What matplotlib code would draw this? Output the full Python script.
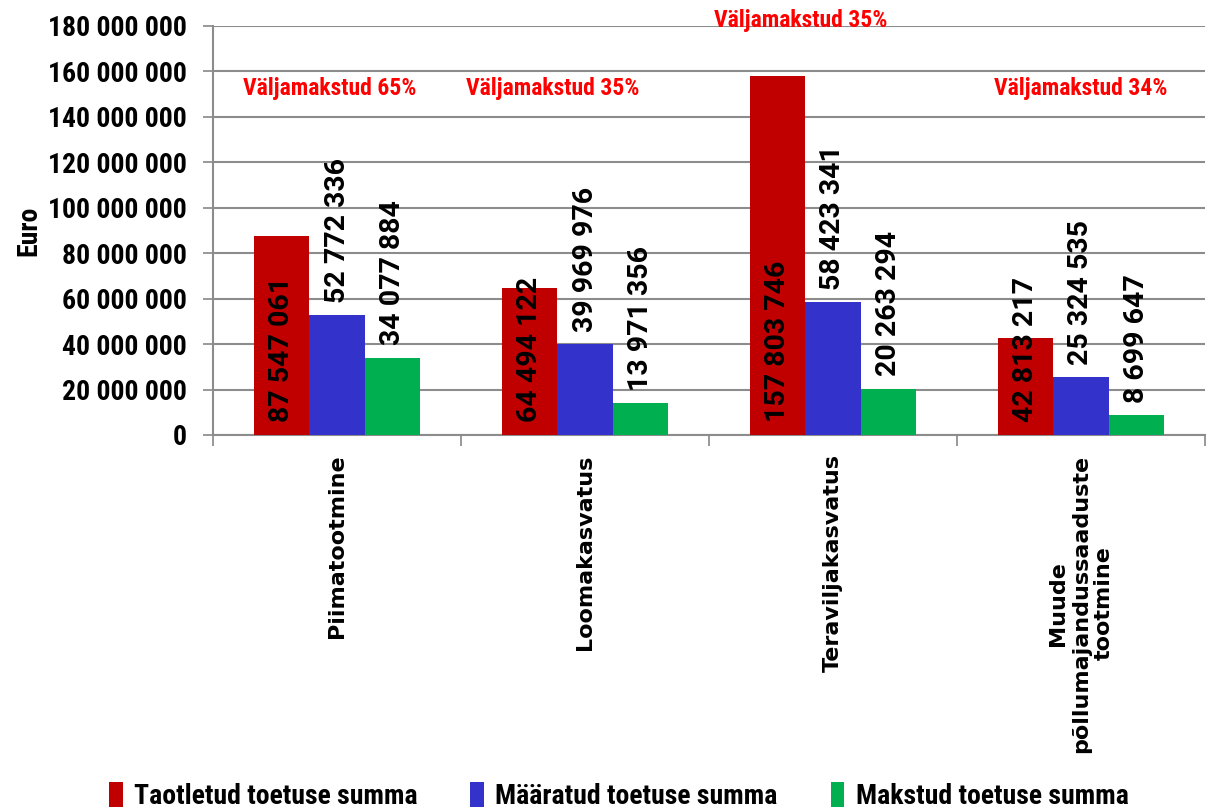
import numpy as np
import matplotlib
matplotlib.use("Agg")
import matplotlib.pyplot as plt
from matplotlib import font_manager
from matplotlib.ticker import FuncFormatter

# Toetuste summad tootmissuundade kaupa
kategooriad = ['Piimatootmine', 'Loomakasvatus', 'Teraviljakasvatus',
               'Muude\npõllumajandussaaduste\ntootmine']
taotletud = [87547061, 64494122, 157803746, 42813217]
maaratud = [52772336, 39969976, 58423341, 25324535]
makstud = [34077884, 13971356, 20263294, 8699647]
seeria_nimed = ['Taotletud toetuse summa', 'Määratud toetuse summa', 'Makstud toetuse summa']

# kitsas kiri kui olemas
olemas = {f.name for f in font_manager.fontManager.ttflist}
kitsas = next((n for n in ['Roboto Condensed', 'Liberation Sans Narrow', 'Roboto']
               if n in olemas), 'DejaVu Sans')

plt.rcParams['font.family'] = [kitsas, 'DejaVu Sans']

def tuhanded(v, pos=None):
    return f'{int(round(v)):,}'.replace(',', ' ')

fig = plt.figure(figsize=(12.18, 8.09), dpi=100)
ax = fig.add_axes([0.1749, 0.4623, 0.8144, 0.5056])

x = np.arange(len(kategooriad))
w = 0.222
varvid = ['#C00000', '#3333CC', '#00B050']
riba1 = ax.bar(x - w, taotletud, w, color=varvid[0], label=seeria_nimed[0], zorder=3)
riba2 = ax.bar(x, maaratud, w, color=varvid[1], label=seeria_nimed[1], zorder=3)
riba3 = ax.bar(x + w, makstud, w, color=varvid[2], label=seeria_nimed[2], zorder=3)

# väärtused: punane tulba sees alt, teised tulba kohal
silt = dict(textcoords='offset points', rotation=90, ha='center', va='bottom',
            fontsize=20.5, fontweight='bold', family=['Roboto', 'DejaVu Sans'], zorder=5)
for r, v in zip(riba1, taotletud):
    ax.annotate(tuhanded(v), (r.get_x() + r.get_width() / 2, 0), xytext=(0, 9), **silt)
for riba, vals in ((riba2, maaratud), (riba3, makstud)):
    for r, v in zip(riba, vals):
        ax.annotate(tuhanded(v), (r.get_x() + r.get_width() / 2, v), xytext=(0, 9), **silt)

# väljamakstud osakaal
nihe_x = [-0.03, -0.13, -0.13, 0.0]
korgus = [152.7e6, 152.7e6, 182.6e6, 152.7e6]
for i in range(len(kategooriad)):
    pr = round(makstud[i] / maaratud[i] * 100)
    ax.text(x[i] + nihe_x[i], korgus[i], f'Väljamakstud {pr}%', color='#FF0000',
            ha='center', va='center', fontsize=17, fontweight='bold', zorder=6,
            clip_on=False)

ax.set_ylim(0, 180e6)
ax.set_yticks(np.arange(0, 180e6 + 1, 20e6))
ax.yaxis.set_major_formatter(FuncFormatter(tuhanded))
ax.set_xlim(-0.5, len(kategooriad) - 0.5)
ax.set_xticks(x)
ax.set_xticklabels(kategooriad, rotation=90, fontsize=16, fontweight='bold',
                   family='DejaVu Sans', ha='center', va='top', multialignment='center')
ax.tick_params(axis='x', length=0, pad=14)
ax.set_xticks(np.arange(-0.5, len(kategooriad)), minor=True)
ax.tick_params(axis='x', which='minor', length=8, color='#888888', width=1.2)
ax.tick_params(axis='y', length=7, color='#888888', width=1.2, labelsize=20, pad=12)
for t in ax.get_yticklabels():
    t.set_fontweight('bold')

ax.grid(axis='y', color='#8c8c8c', linewidth=1.5, zorder=0)
for s in ('top', 'right'):
    ax.spines[s].set_visible(False)
for s in ('left', 'bottom'):
    ax.spines[s].set_color('#8c8c8c')
    ax.spines[s].set_linewidth(1.5)

ax.set_ylabel('Euro', fontsize=20, fontweight='bold')
ax.yaxis.set_label_coords(-0.172, 0.5)

fig.legend(handles=[riba1, riba2, riba3], loc='center', bbox_to_anchor=(0.508, 0.016),
           ncol=3, frameon=False, prop={'weight': 'bold', 'size': 20},
           handlelength=0.5, handleheight=1.0, handletextpad=0.4, columnspacing=1.9)

fig.savefig('out.png', dpi=100)
